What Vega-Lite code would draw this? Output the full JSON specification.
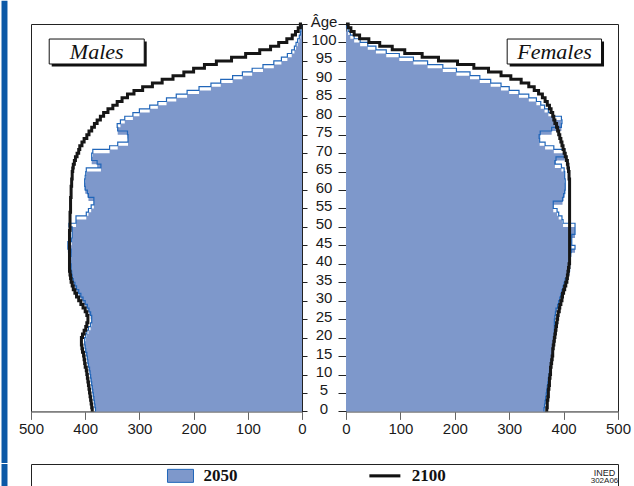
{
  "$schema": "https://vega.github.io/schema/vega-lite/v6.json",
  "padding": 0,
  "background": "white",
  "config": {
    "font": "Liberation Sans",
    "view": {"stroke": "#222", "strokeWidth": 1},
    "axis": {"labelFont": "Liberation Sans", "labelFontSize": 15, "labelColor": "#1a1a1a", "grid": false, "labelFlush": false, "labelOverlap": false}
  },
  "datasets": {
    "pop": [
      {"age":0,"m50":381,"m00":387,"f50":364,"f00":369},
      {"age":1,"m50":382,"m00":388,"f50":365,"f00":370},
      {"age":2,"m50":383,"m00":389,"f50":366,"f00":370},
      {"age":3,"m50":384,"m00":390,"f50":367,"f00":371},
      {"age":4,"m50":385,"m00":391,"f50":368,"f00":372},
      {"age":5,"m50":386,"m00":392,"f50":369,"f00":372},
      {"age":6,"m50":387,"m00":393,"f50":370,"f00":373},
      {"age":7,"m50":388,"m00":394,"f50":371,"f00":374},
      {"age":8,"m50":389,"m00":395,"f50":372,"f00":374},
      {"age":9,"m50":390,"m00":396,"f50":373,"f00":375},
      {"age":10,"m50":391,"m00":397,"f50":374,"f00":376},
      {"age":11,"m50":392,"m00":398,"f50":375,"f00":376},
      {"age":12,"m50":394,"m00":400,"f50":376,"f00":377},
      {"age":13,"m50":395,"m00":401,"f50":377,"f00":378},
      {"age":14,"m50":396,"m00":402,"f50":378,"f00":379},
      {"age":15,"m50":397,"m00":403,"f50":379,"f00":380},
      {"age":16,"m50":399,"m00":405,"f50":380,"f00":380},
      {"age":17,"m50":400,"m00":406,"f50":381,"f00":381},
      {"age":18,"m50":401,"m00":407,"f50":382,"f00":382},
      {"age":19,"m50":401,"m00":407,"f50":383,"f00":383},
      {"age":20,"m50":399,"m00":405,"f50":383,"f00":384},
      {"age":21,"m50":397,"m00":402,"f50":383,"f00":385},
      {"age":22,"m50":394,"m00":399,"f50":383,"f00":386},
      {"age":23,"m50":390,"m00":397,"f50":383,"f00":387},
      {"age":24,"m50":388,"m00":395,"f50":383,"f00":388},
      {"age":25,"m50":388,"m00":395,"f50":384,"f00":389},
      {"age":26,"m50":390,"m00":397,"f50":385,"f00":390},
      {"age":27,"m50":393,"m00":400,"f50":386,"f00":392},
      {"age":28,"m50":396,"m00":404,"f50":389,"f00":393},
      {"age":29,"m50":400,"m00":408,"f50":391,"f00":395},
      {"age":30,"m50":404,"m00":412,"f50":393,"f00":397},
      {"age":31,"m50":408,"m00":416,"f50":395,"f00":398},
      {"age":32,"m50":412,"m00":419,"f50":397,"f00":400},
      {"age":33,"m50":416,"m00":422,"f50":399,"f00":402},
      {"age":34,"m50":419,"m00":424,"f50":401,"f00":404},
      {"age":35,"m50":422,"m00":426,"f50":403,"f00":406},
      {"age":36,"m50":424,"m00":427,"f50":406,"f00":407},
      {"age":37,"m50":425,"m00":428,"f50":409,"f00":408},
      {"age":38,"m50":426,"m00":429,"f50":411,"f00":409},
      {"age":39,"m50":426,"m00":429,"f50":411,"f00":410},
      {"age":40,"m50":427,"m00":429,"f50":411,"f00":411},
      {"age":41,"m50":427,"m00":429,"f50":412,"f00":411},
      {"age":42,"m50":426,"m00":429,"f50":413,"f00":411},
      {"age":43,"m50":426,"m00":429,"f50":414,"f00":411},
      {"age":44,"m50":432,"m00":429,"f50":421,"f00":411},
      {"age":45,"m50":432,"m00":429,"f50":415,"f00":411},
      {"age":46,"m50":425,"m00":429,"f50":415,"f00":411},
      {"age":47,"m50":424,"m00":429,"f50":415,"f00":411},
      {"age":48,"m50":424,"m00":429,"f50":421,"f00":411},
      {"age":49,"m50":424,"m00":428,"f50":421,"f00":411},
      {"age":50,"m50":430,"m00":428,"f50":421,"f00":411},
      {"age":51,"m50":417,"m00":428,"f50":399,"f00":411},
      {"age":52,"m50":417,"m00":428,"f50":397,"f00":411},
      {"age":53,"m50":398,"m00":428,"f50":391,"f00":411},
      {"age":54,"m50":394,"m00":427,"f50":388,"f00":411},
      {"age":55,"m50":389,"m00":427,"f50":381,"f00":411},
      {"age":56,"m50":384,"m00":427,"f50":381,"f00":411},
      {"age":57,"m50":384,"m00":427,"f50":398,"f00":411},
      {"age":58,"m50":394,"m00":426,"f50":400,"f00":411},
      {"age":59,"m50":396,"m00":426,"f50":402,"f00":411},
      {"age":60,"m50":400,"m00":426,"f50":403,"f00":411},
      {"age":61,"m50":401,"m00":425,"f50":403,"f00":411},
      {"age":62,"m50":401,"m00":425,"f50":403,"f00":411},
      {"age":63,"m50":400,"m00":424,"f50":402,"f00":410},
      {"age":64,"m50":399,"m00":424,"f50":402,"f00":410},
      {"age":65,"m50":398,"m00":423,"f50":401,"f00":409},
      {"age":66,"m50":371,"m00":422,"f50":396,"f00":408},
      {"age":67,"m50":378,"m00":420,"f50":384,"f00":407},
      {"age":68,"m50":388,"m00":418,"f50":386,"f00":405},
      {"age":69,"m50":388,"m00":415,"f50":402,"f00":403},
      {"age":70,"m50":386,"m00":412,"f50":402,"f00":401},
      {"age":71,"m50":355,"m00":410,"f50":382,"f00":399},
      {"age":72,"m50":340,"m00":406,"f50":366,"f00":397},
      {"age":73,"m50":321,"m00":402,"f50":356,"f00":395},
      {"age":74,"m50":321,"m00":397,"f50":355,"f00":393},
      {"age":75,"m50":322,"m00":393,"f50":357,"f00":391},
      {"age":76,"m50":340,"m00":388,"f50":378,"f00":389},
      {"age":77,"m50":341,"m00":383,"f50":396,"f00":387},
      {"age":78,"m50":335,"m00":378,"f50":397,"f00":384},
      {"age":79,"m50":327,"m00":372,"f50":396,"f00":382},
      {"age":80,"m50":312,"m00":366,"f50":381,"f00":380},
      {"age":81,"m50":300,"m00":358,"f50":372,"f00":377},
      {"age":82,"m50":281,"m00":349,"f50":365,"f00":374},
      {"age":83,"m50":266,"m00":341,"f50":358,"f00":370},
      {"age":84,"m50":250,"m00":332,"f50":350,"f00":366},
      {"age":85,"m50":232,"m00":322,"f50":336,"f00":361},
      {"age":86,"m50":212,"m00":310,"f50":318,"f00":354},
      {"age":87,"m50":190,"m00":294,"f50":300,"f00":346},
      {"age":88,"m50":168,"m00":276,"f50":285,"f00":336},
      {"age":89,"m50":150,"m00":258,"f50":266,"f00":322},
      {"age":90,"m50":128,"m00":238,"f50":246,"f00":303},
      {"age":91,"m50":110,"m00":218,"f50":228,"f00":285},
      {"age":92,"m50":92,"m00":200,"f50":203,"f00":262},
      {"age":93,"m50":72,"m00":180,"f50":178,"f00":235},
      {"age":94,"m50":52,"m00":158,"f50":150,"f00":205},
      {"age":95,"m50":38,"m00":130,"f50":124,"f00":170},
      {"age":96,"m50":27,"m00":104,"f50":98,"f00":140},
      {"age":97,"m50":19,"m00":78,"f50":74,"f00":108},
      {"age":98,"m50":14,"m00":58,"f50":55,"f00":85},
      {"age":99,"m50":11,"m00":43,"f50":40,"f00":62},
      {"age":100,"m50":8,"m00":28,"f50":26,"f00":42},
      {"age":101,"m50":5,"m00":18,"f50":15,"f00":25},
      {"age":102,"m50":3,"m00":12,"f50":8,"f00":15},
      {"age":103,"m50":2,"m00":7,"f50":4,"f00":9},
      {"age":104,"m50":1,"m00":3,"f50":1,"f00":4},
      {"age":105,"m50":0,"m00":0,"f50":0,"f00":0}
    ]
  },
  "vconcat": [
    {
      "hconcat": [
        {
          "width": 271,
          "height": 387.4,
          "layer": [
            {
              "data": {"name": "pop"},
              "mark": {"type": "area", "orient": "horizontal", "interpolate": "step-before", "color": "#7e98cb"},
              "encoding": {
                "x": {"field": "m50", "type": "quantitative", "stack": null,
                      "scale": {"domain": [0, 500], "reverse": true, "nice": false, "zero": false},
                      "axis": {"values": [0, 100, 200, 300, 400, 500], "tickCount": 30, "title": null, "tickSize": 8, "labelPadding": 2, "labelOverlap": false, "domainColor": "#888", "tickColor": "#666"}},
                "y": {"field": "age", "type": "quantitative",
                      "scale": {"domain": [0, 105], "nice": false, "zero": false},
                      "axis": {"orient": "right", "values": [0,5,10,15,20,25,30,35,40,45,50,55,60,65,70,75,80,85,90,95,100,105], "tickCount": 30, "title": null, "tickSize": 5, "labelAlign": "center", "labelPadding": 16.5, "labelOffset": -3, "labelOverlap": false, "labelExpr": "datum.value == 105 ? 'Âge' : datum.label", "domainColor": "#222", "tickColor": "#222"}}
              }
            },
            {
              "data": {"name": "pop"},
              "mark": {"type": "line", "interpolate": "step-before", "color": "#2166b9", "strokeWidth": 1.2},
              "encoding": {
                "x": {"field": "m50", "type": "quantitative"},
                "y": {"field": "age", "type": "quantitative"},
                "order": {"field": "age", "type": "quantitative"}
              }
            },
            {
              "data": {"name": "pop"},
              "mark": {"type": "line", "interpolate": "step-before", "color": "#161616", "strokeWidth": 3},
              "encoding": {
                "x": {"field": "m00", "type": "quantitative"},
                "y": {"field": "age", "type": "quantitative"},
                "order": {"field": "age", "type": "quantitative"}
              }
            },
            {
              "data": {"values": [{"label": "Males"}]},
              "mark": {"type": "rect", "color": "#111"},
              "encoding": {"x": {"datum": 461.8}, "x2": {"datum": 286.5}, "y": {"datum": 100.26}, "y2": {"datum": 93.48}}
            },
            {
              "data": {"values": [{"label": "Males"}]},
              "mark": {"type": "rect", "fill": "white", "stroke": "#111", "strokeWidth": 1},
              "encoding": {"x": {"datum": 466.4}, "x2": {"datum": 291.1}, "y": {"datum": 100.93}, "y2": {"datum": 94.16}}
            },
            {
              "data": {"values": [{"label": "Males"}]},
              "mark": {"type": "text", "font": "Liberation Serif", "fontStyle": "italic", "fontSize": 22, "color": "#111", "baseline": "middle"},
              "encoding": {"x": {"datum": 378.8}, "y": {"datum": 97.5}, "text": {"field": "label"}}
            },
            {
              "data": {"values": [{"stripe": 1}]},
              "mark": {"type": "rect", "color": "#0b58a6"},
              "encoding": {"x": {"datum": 554.4}, "x2": {"datum": 543.4}, "y": {"datum": 111.32}, "y2": {"datum": -13.97}}
            }
          ]
        },
        {
          "width": 272,
          "height": 387.4,
          "layer": [
            {
              "data": {"name": "pop"},
              "mark": {"type": "area", "orient": "horizontal", "interpolate": "step-before", "color": "#7e98cb"},
              "encoding": {
                "x": {"field": "f50", "type": "quantitative", "stack": null,
                      "scale": {"domain": [0, 500], "nice": false, "zero": false},
                      "axis": {"values": [0, 100, 200, 300, 400, 500], "tickCount": 30, "title": null, "tickSize": 8, "labelPadding": 2, "labelOverlap": false, "domainColor": "#888", "tickColor": "#666"}},
                "y": {"field": "age", "type": "quantitative",
                      "scale": {"domain": [0, 105], "nice": false, "zero": false},
                      "axis": {"orient": "left", "values": [0,5,10,15,20,25,30,35,40,45,50,55,60,65,70,75,80,85,90,95,100,105], "tickCount": 30, "title": null, "tickSize": 8, "labels": false, "domainColor": "#222", "tickColor": "#222"}}
              }
            },
            {
              "data": {"name": "pop"},
              "mark": {"type": "line", "interpolate": "step-before", "color": "#2166b9", "strokeWidth": 1.2},
              "encoding": {
                "x": {"field": "f50", "type": "quantitative"},
                "y": {"field": "age", "type": "quantitative"},
                "order": {"field": "age", "type": "quantitative"}
              }
            },
            {
              "data": {"name": "pop"},
              "mark": {"type": "line", "interpolate": "step-before", "color": "#161616", "strokeWidth": 3},
              "encoding": {
                "x": {"field": "f00", "type": "quantitative"},
                "y": {"field": "age", "type": "quantitative"},
                "order": {"field": "age", "type": "quantitative"}
              }
            },
            {
              "data": {"values": [{"label": "Females"}]},
              "mark": {"type": "rect", "color": "#111"},
              "encoding": {"x": {"datum": 300.9}, "x2": {"datum": 474.3}, "y": {"datum": 100.26}, "y2": {"datum": 93.48}}
            },
            {
              "data": {"values": [{"label": "Females"}]},
              "mark": {"type": "rect", "fill": "white", "stroke": "#111", "strokeWidth": 1},
              "encoding": {"x": {"datum": 296.3}, "x2": {"datum": 469.7}, "y": {"datum": 100.93}, "y2": {"datum": 94.16}}
            },
            {
              "data": {"values": [{"label": "Females"}]},
              "mark": {"type": "text", "font": "Liberation Serif", "fontStyle": "italic", "fontSize": 22, "color": "#111", "baseline": "middle"},
              "encoding": {"x": {"datum": 383.3}, "y": {"datum": 97.5}, "text": {"field": "label"}}
            }
          ]
        }
      ],
      "bounds": "flush",
      "align": "all",
      "spacing": 43
    },
    {
      "width": 587,
      "height": 23.7,
      "resolve": {"scale": {"x": "independent"}},
      "layer": [
        {
          "data": {"values": [{"stripe": 1}]},
          "mark": {"type": "rect", "color": "#0b58a6"},
          "encoding": {"x": {"datum": -5.0256, "type": "quantitative", "scale": {"domain": [0, 100], "nice": false, "zero": false}, "axis": null}, "x2": {"datum": -4.0034}}
        },
        {
          "data": {"values": [{"year": "2050"}, {"year": "2100"}]},
          "encoding": {"x": {"field": "year", "type": "nominal", "scale": {"type": "point", "domain": ["2050", "2100"], "padding": 0.936, "align": 0.3907}, "axis": null}},
          "layer": [
            {
              "transform": [{"filter": "datum.year == '2050'"}],
              "mark": {"type": "point", "shape": "M-1,-0.5H1V0.5H-1Z", "size": 676, "filled": true, "fill": "#7e98cb", "stroke": "#2166b9", "strokeWidth": 1, "opacity": 1}
            },
            {
              "transform": [{"filter": "datum.year == '2100'"}],
              "mark": {"type": "point", "shape": "M-1,-0.1H1V0.1H-1Z", "size": 961, "filled": true, "color": "#111", "opacity": 1}
            },
            {
              "transform": [{"filter": "datum.year == '2050'"}],
              "mark": {"type": "text", "align": "left", "baseline": "middle", "dx": 23, "font": "Liberation Serif", "fontWeight": "bold", "fontSize": 17, "color": "#111"},
              "encoding": {"text": {"field": "year"}}
            },
            {
              "transform": [{"filter": "datum.year == '2100'"}],
              "mark": {"type": "text", "align": "left", "baseline": "middle", "dx": 27, "font": "Liberation Serif", "fontWeight": "bold", "fontSize": 17, "color": "#111"},
              "encoding": {"text": {"field": "year"}}
            }
          ]
        },
        {
          "data": {"values": [{"t": "INED"}]},
          "mark": {"type": "text", "align": "center", "baseline": "middle", "dx": 280, "dy": -3, "fontSize": 9, "color": "#222"},
          "encoding": {"text": {"field": "t"}}
        },
        {
          "data": {"values": [{"t": "302A06"}]},
          "mark": {"type": "text", "align": "center", "baseline": "middle", "dx": 280, "dy": 5.5, "fontSize": 8, "color": "#222"},
          "encoding": {"text": {"field": "t"}}
        }
      ]
    }
  ],
  "spacing": -1
}
